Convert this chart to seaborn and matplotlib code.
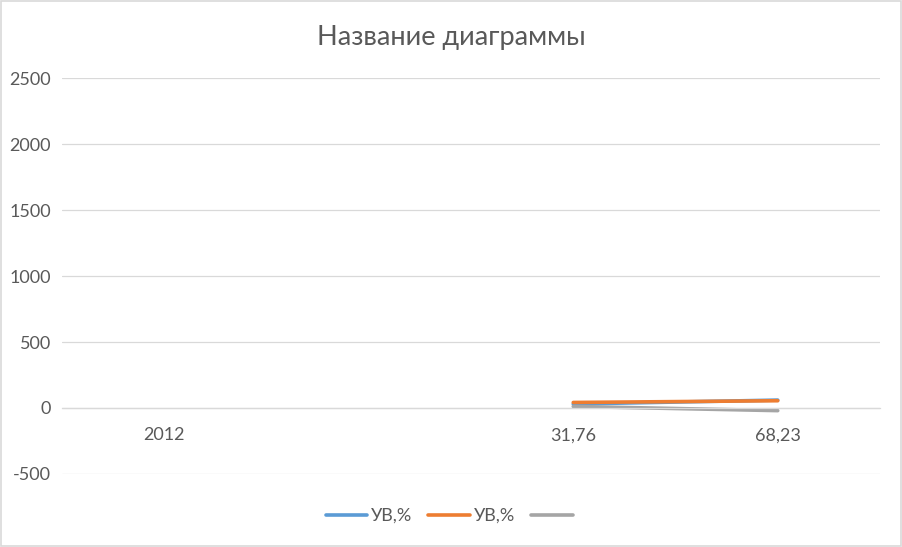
import numpy as np
import pandas as pd
import seaborn as sns
import matplotlib.pyplot as plt

categories = ['2012', '', '31,76', '68,23']
series_names = ['УВ,%', 'УВ,%', '']
series_a = [np.nan, np.nan, 30, 60]
series_b = [np.nan, np.nan, 42, 55]
series_c = [np.nan, np.nan, 12, -20]
colors = ['#5B9BD5', '#ED7D31', '#A5A5A5']

sns.set_theme(style='white')
plt.rcParams['font.family'] = ['Lato', 'DejaVu Sans']
plt.rcParams['axes.unicode_minus'] = False

fig = plt.figure(figsize=(9.02, 5.47), dpi=100)
ax = fig.add_axes([62 / 902, 1 - 474 / 547, (880 - 62) / 902, (474 - 78) / 547])

pos = np.arange(len(categories))
lines = []
for vals, name, c in zip([series_a, series_b, series_c], series_names, colors):
    df = pd.DataFrame({'x': pos, 'y': vals}).dropna()
    sns.lineplot(data=df, x='x', y='y', ax=ax, color=c, linewidth=2.6,
                 solid_capstyle='round')
    lines.append(ax.lines[-1])

ax.set_xlim(-0.5, len(categories) - 0.5)
ax.set_ylim(-500, 2500)
ax.set_yticks(range(-500, 2501, 500))
ax.set_xticks(pos)
ax.set_xticklabels(categories)
ax.set_xlabel('')
ax.set_ylabel('')
ax.grid(axis='y', color='#D9D9D9', linewidth=0.9)
ax.set_axisbelow(True)
for s in ['top', 'right', 'left']:
    ax.spines[s].set_visible(False)
ax.spines['bottom'].set_position(('data', 0))
ax.spines['bottom'].set_color('#D9D9D9')
ax.spines['bottom'].set_linewidth(0.9)
ax.tick_params(axis='x', length=0, pad=14, labelsize=13, labelcolor='#595959')
ax.tick_params(axis='y', length=0, pad=8, labelsize=13, labelcolor='#595959')

fig.text(0.5, 1 - 38 / 547, 'Название диаграммы', ha='center', va='center',
         fontsize=19.5, color='#595959')

fig.legend(lines, series_names, loc='center', bbox_to_anchor=(0.5, 1 - 516 / 547),
           ncol=3, frameon=False, fontsize=13, labelcolor='#595959',
           handlelength=2.3, handletextpad=0.2, columnspacing=0.9)

fig.add_artist(plt.Rectangle((0.001, 0.001), 0.998, 0.997, transform=fig.transFigure,
                             fill=False, edgecolor='#D9D9D9', linewidth=1.2))

fig.savefig('out.png', dpi=100)
